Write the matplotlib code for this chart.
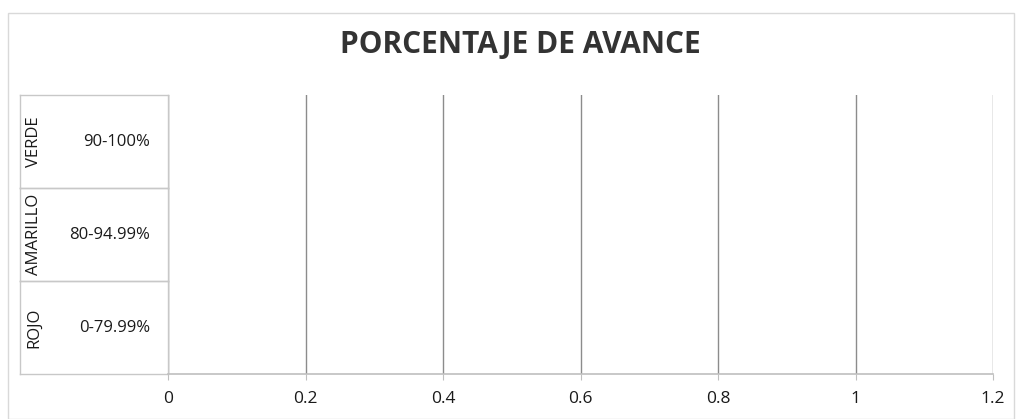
import matplotlib
matplotlib.use("Agg")
import matplotlib.pyplot as plt
from matplotlib.lines import Line2D
from matplotlib.patches import Rectangle

plt.rcParams['font.family'] = ['Open Sans', 'DejaVu Sans']

title = "PORCENTAJE DE AVANCE"
groups = ["VERDE", "AMARILLO", "ROJO"]
ranges = ["90-100%", "80-94.99%", "0-79.99%"]
values = [0, 0, 0]
xticks = [0, 0.2, 0.4, 0.6, 0.8, 1, 1.2]
xticklabels = ["0", "0.2", "0.4", "0.6", "0.8", "1", "1.2"]

W, H = 1016, 419
fig = plt.figure(figsize=(W / 100, H / 100), dpi=100)
fig.patch.set_facecolor("white")

L, R, T, B = 168, 993, 95, 374
ax = fig.add_axes([L / W, 1 - B / H, (R - L) / W, (B - T) / H])

n = len(groups)
ypos = list(range(n))[::-1]  # first category on top
ax.barh(ypos, values, height=0.6, color="#4472C4")
ax.set_ylim(-0.5, n - 0.5)
ax.set_xlim(0, 1.2)
ax.set_xticks(xticks)
ax.set_xticklabels(xticklabels, fontsize=12.5, color="#1a1a1a")
ax.set_yticks([])
ax.tick_params(axis="x", length=4, color="#BFBFBF", pad=8)
ax.xaxis.grid(True, color="#8c8c8c", linewidth=1.0)
ax.set_axisbelow(True)
for s in ["top", "right", "left"]:
    ax.spines[s].set_visible(False)
ax.spines["bottom"].set_color("#BFBFBF")
ax.spines["bottom"].set_linewidth(1.2)

# multi-level category labels
line_col = "#C8C8C8"
box_left = 20
name_x = 34
range_x = 150
trans = ax.get_yaxis_transform()
fx_name = (name_x - L) / (R - L)
fx_range = (range_x - L) / (R - L)
fx_left = (box_left - L) / (R - L)
for i, (g, r) in enumerate(zip(groups, ranges)):
    y = ypos[i]
    ytop = y + 0.5
    ybot = y - 0.5
    ax.text(fx_name, y, g, rotation=90, ha="center", va="center",
            fontsize=12, color="#1a1a1a", transform=trans, clip_on=False)
    ax.text(fx_range, y, r, ha="right", va="center",
            fontsize=12, color="#1a1a1a", transform=trans, clip_on=False)
    for yy in (ytop, ybot):
        ax.add_line(Line2D([fx_left, 0], [yy, yy], color=line_col, lw=1.0,
                           transform=trans, clip_on=False))
    ax.add_line(Line2D([fx_left, fx_left], [ybot, ytop], color=line_col,
                       lw=1.0, transform=trans, clip_on=False))
    ax.add_line(Line2D([0, 0], [ybot, ytop], color=line_col,
                       lw=1.0, transform=trans, clip_on=False))

fig.text(0.512, 1 - 45 / H, title, ha="center", va="center",
         fontsize=21.5, fontweight="bold", color="#333333")

fig.add_artist(Rectangle((8 / W, 0.0), 1 - 10 / W, 1 - 13 / H,
                         transform=fig.transFigure, fill=False,
                         edgecolor="#D9D9D9", lw=1.0))

fig.savefig("out.png", dpi=100, facecolor="white")
